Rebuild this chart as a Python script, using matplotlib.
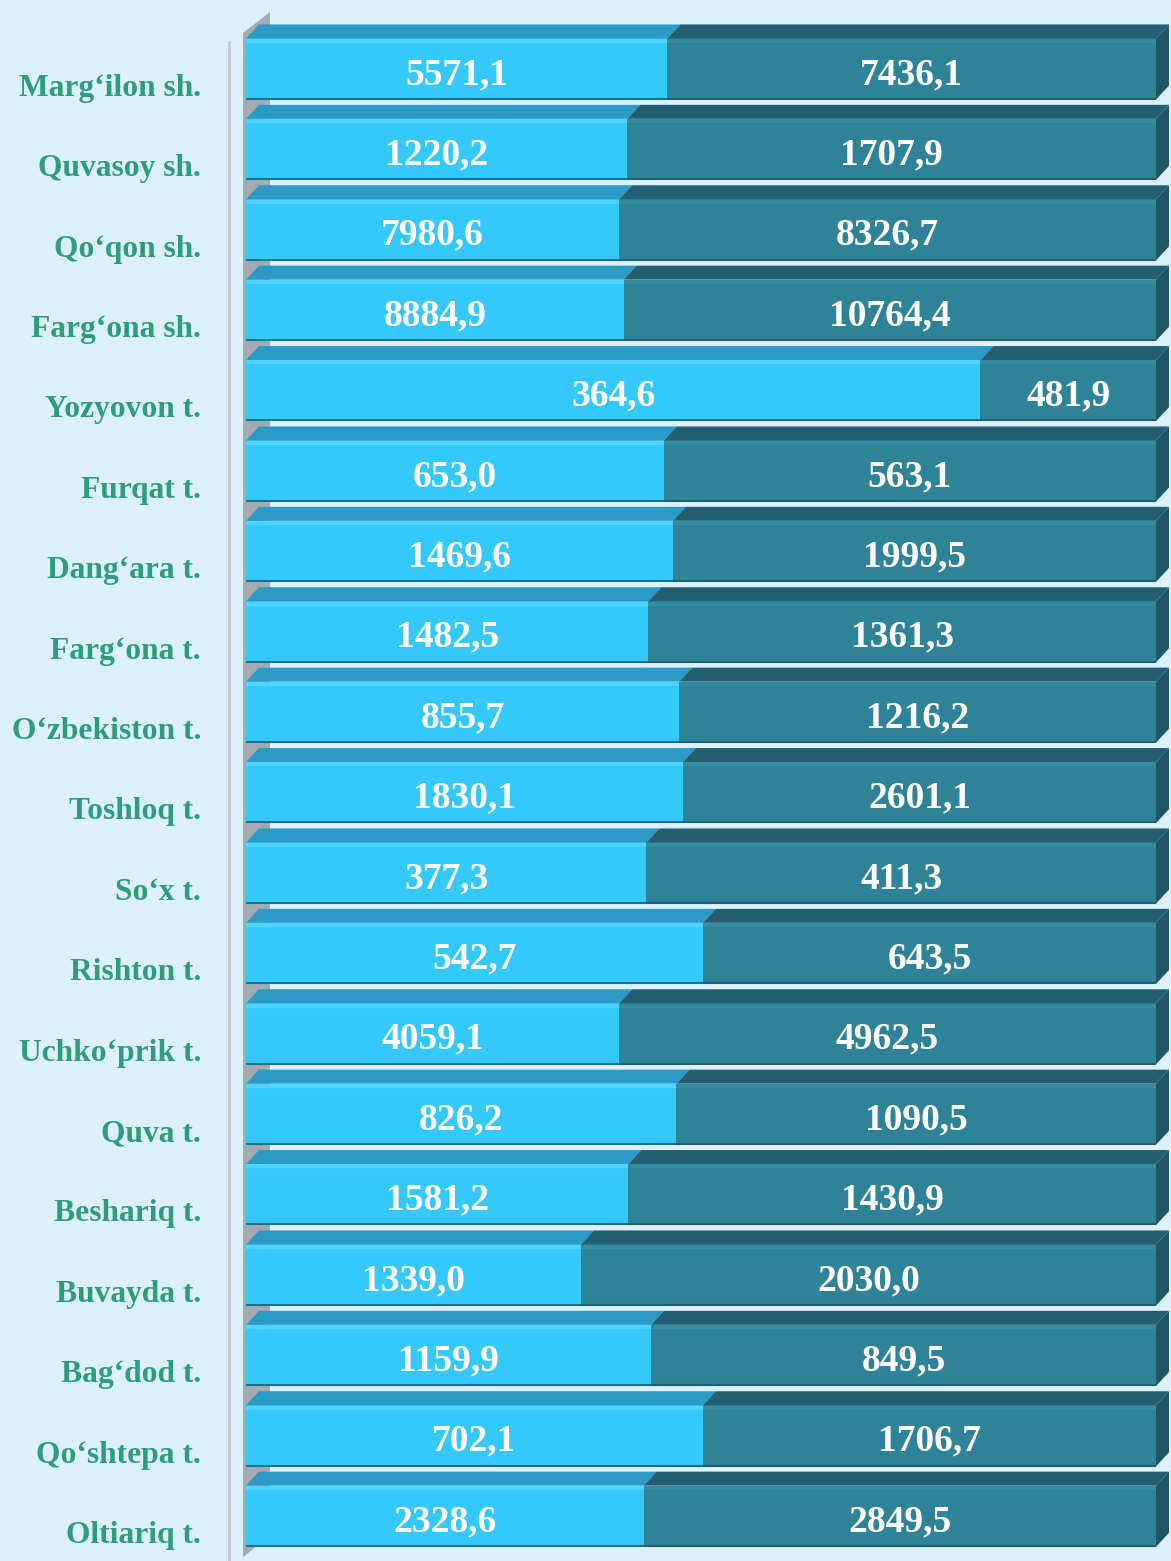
import matplotlib
matplotlib.use("Agg")
import matplotlib.pyplot as plt
from matplotlib.patches import Polygon

regions = ["Marg‘ilon sh.", "Quvasoy sh.", "Qo‘qon sh.", "Farg‘ona sh.", "Yozyovon t.",
           "Furqat t.", "Dang‘ara t.", "Farg‘ona t.", "O‘zbekiston t.", "Toshloq t.",
           "So‘x t.", "Rishton t.", "Uchko‘prik t.", "Quva t.", "Beshariq t.",
           "Buvayda t.", "Bag‘dod t.", "Qo‘shtepa t.", "Oltiariq t."]
vals_left = [5571.1, 1220.2, 7980.6, 8884.9, 364.6, 653.0, 1469.6, 1482.5, 855.7, 1830.1,
             377.3, 542.7, 4059.1, 826.2, 1581.2, 1339.0, 1159.9, 702.1, 2328.6]
vals_right = [7436.1, 1707.9, 8326.7, 10764.4, 481.9, 563.1, 1999.5, 1361.3, 1216.2, 2601.1,
              411.3, 643.5, 4962.5, 1090.5, 1430.9, 2030.0, 849.5, 1706.7, 2849.5]
# share of the left segment in percent, as drawn in the picture
share_left = [46.3, 41.9, 41.0, 41.5, 80.7, 45.9, 46.9, 44.2, 47.6, 48.0,
              44.0, 50.2, 41.0, 47.3, 42.0, 36.8, 44.5, 50.2, 43.7]

bg = "#ddf0fe"
c_front = ["#35c9fb", "#2e8399"]
c_top = ["#2b9ac6", "#235f70"]
c_hi = ["#4fd4ff", "#348ca1"]
c_side = "#1f5666"
txt_green = "#2e9e78"

W, H = 1171, 1561
fig = plt.figure(figsize=(W / 100, H / 100), dpi=100, facecolor=bg)
ax = fig.add_axes([246 / W, 0, 910 / W, 1])
ax.set_facecolor(bg)
n = len(regions)
pitch = 80.4
ax.set_xlim(0, 100)
ax.set_ylim((H - 69) / pitch, -69 / pitch)
ax.axis("off")

h = 0.38          # half height of the front face
dx = 13 / 9.1     # depth offset in x units
dy = 14 / pitch   # depth offset in y units

# back wall and thin axis line
wall_x0 = -3 / 9.1
wall = Polygon([(wall_x0, -36 / pitch), (wall_x0 + 27 / 9.1, -57 / pitch),
                (wall_x0 + 27 / 9.1, (1536 - 69) / pitch), (wall_x0, (1557 - 69) / pitch)],
               closed=True, facecolor="#a3abb3", edgecolor="none", zorder=1, clip_on=False)
ax.add_patch(wall)
ax.plot([-17 / 9.1, -17 / 9.1], [-27 / pitch, (H - 69) / pitch], color="#c4c8cc",
        lw=2, zorder=1, clip_on=False)

for i in range(n):
    segs = [(0, share_left[i]), (share_left[i], 100)]
    labels = [vals_left[i], vals_right[i]]
    for k, (x0, x1) in enumerate(segs):
        ax.barh(i, x1 - x0, left=x0, height=2 * h, color=c_front[k], edgecolor="none", zorder=3)
        top = Polygon([(x0, i - h), (x1, i - h), (x1 + dx, i - h - dy), (x0 + dx, i - h - dy)],
                      closed=True, facecolor=c_top[k], edgecolor="none", zorder=3, clip_on=False)
        ax.add_patch(top)
        ax.plot([x0, x1], [i - h + 0.03, i - h + 0.03], color=c_hi[k], lw=3, zorder=4,
                solid_capstyle="butt")
        ax.plot([x0, x1], [i + h - 0.01, i + h - 0.01], color="#1d6f8a" if k == 0 else "#22606f",
                lw=1.5, zorder=4, solid_capstyle="butt")
        ax.text((x0 + x1) / 2, i + 0.07, f"{labels[k]:.1f}".replace(".", ","),
                ha="center", va="center", color="white", fontsize=27,
                fontweight="bold", family="Liberation Serif", zorder=5)
    side = Polygon([(100, i - h), (100 + dx, i - h - dy), (100 + dx, i + h - dy), (100, i + h)],
                   closed=True, facecolor=c_side, edgecolor="none", zorder=3, clip_on=False)
    ax.add_patch(side)
    ax.text(-45 / 9.1, i + 0.24, regions[i], ha="right", va="center", color=txt_green,
            fontsize=22.7, fontweight="bold", family="Liberation Serif", zorder=5)

fig.savefig("out.png", dpi=100, facecolor=bg)
